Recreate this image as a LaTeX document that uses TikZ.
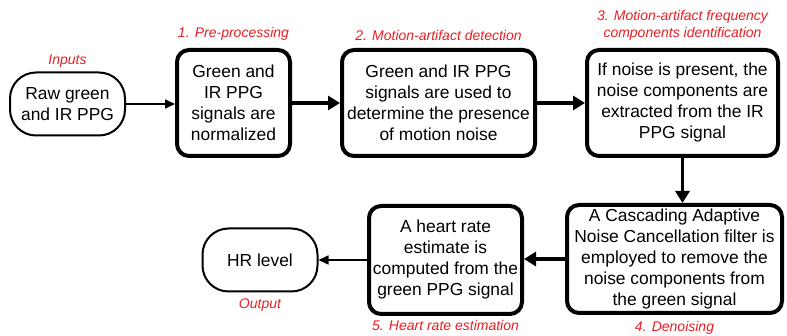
\documentclass[tikz,border=0pt]{standalone}
\usepackage{fontspec}
\setmainfont{Liberation Sans}
\usetikzlibrary{positioning,arrows.meta}
\definecolor{Red}{RGB}{234,30,36}

\begin{document}
\begin{tikzpicture}[x=.5pt,y=-.5pt,
 s/.style={rounded corners=6pt,draw,line width=2pt,align=center,inner sep=0pt,font=\fontsize{8.7}{10.5}\selectfont},
 tm/.style={rounded corners=13pt,draw,line width=1pt,minimum width=57.5pt,minimum height=31.5pt,align=center,inner sep=0pt,font=\fontsize{8.7}{10.5}\selectfont},
 lb/.style={inner sep=0pt,align=center,text=Red,font=\fontsize{7}{8.5}\selectfont\itshape},
 a/.style={-{Triangle[length=5pt,width=4.5pt]},line width=.8pt},
 w/.style={-{Triangle[length=6pt,width=7pt]},line width=1.8pt}]
\useasboundingbox (0,0) rectangle (787,336);
\node[tm] (in) at (67.5,104) {Raw green\\and IR PPG};
\node[s,minimum width=56.5pt,minimum height=53pt] (b1) at (233.5,103) {Green and\\IR PPG\\signals are\\normalized};
\node[s,minimum width=96.5pt,minimum height=53pt] (b2) at (438.5,103) {Green and IR PPG\\signals are used to\\determine the presence\\of motion noise};
\node[s,minimum width=95.5pt,minimum height=53pt] (b3) at (682.5,103) {If noise is present, the\\noise components are\\extracted from the IR\\PPG signal};
\node[s,minimum width=107.5pt,minimum height=54pt] (b4) at (674.5,259) {A Cascading Adaptive\\Noise Cancellation filter is\\employed to remove the\\noise components from\\the green signal};
\node[s,minimum width=76.5pt,minimum height=54pt] (b5) at (445.5,260) {A heart rate\\estimate is\\computed from the\\green PPG signal};
\node[tm] (out) at (260,260) {HR level};
\node[lb,above=2pt of in] (lin) {Inputs};
\node[lb,above=3.5pt of b1] (l1) {1. Pre-processing};
\node[lb,above=3.5pt of b2] (l2) {2. Motion-artifact detection};
\node[lb,above=3.5pt of b3] (l3) {3. Motion-artifact frequency\\components identification};
\node[lb,below=3pt of b4] (l4) {4. Denoising};
\node[lb,below=2pt of b5] (l5) {5. Heart rate estimation};
\node[lb,below=3pt of out] (lout) {Output};
\draw[a] (in.east) -- (in.east -| b1.west);
\draw[w] (b1) -- (b2);
\draw[w] (b2) -- (b3);
\draw[w] (b3.south) -- (b3.south |- b4.north);
\draw[w] (b4.west) -- (b4.west -| b5.east);
\draw[a] (b5) -- (out);
\end{tikzpicture}
\end{document}
